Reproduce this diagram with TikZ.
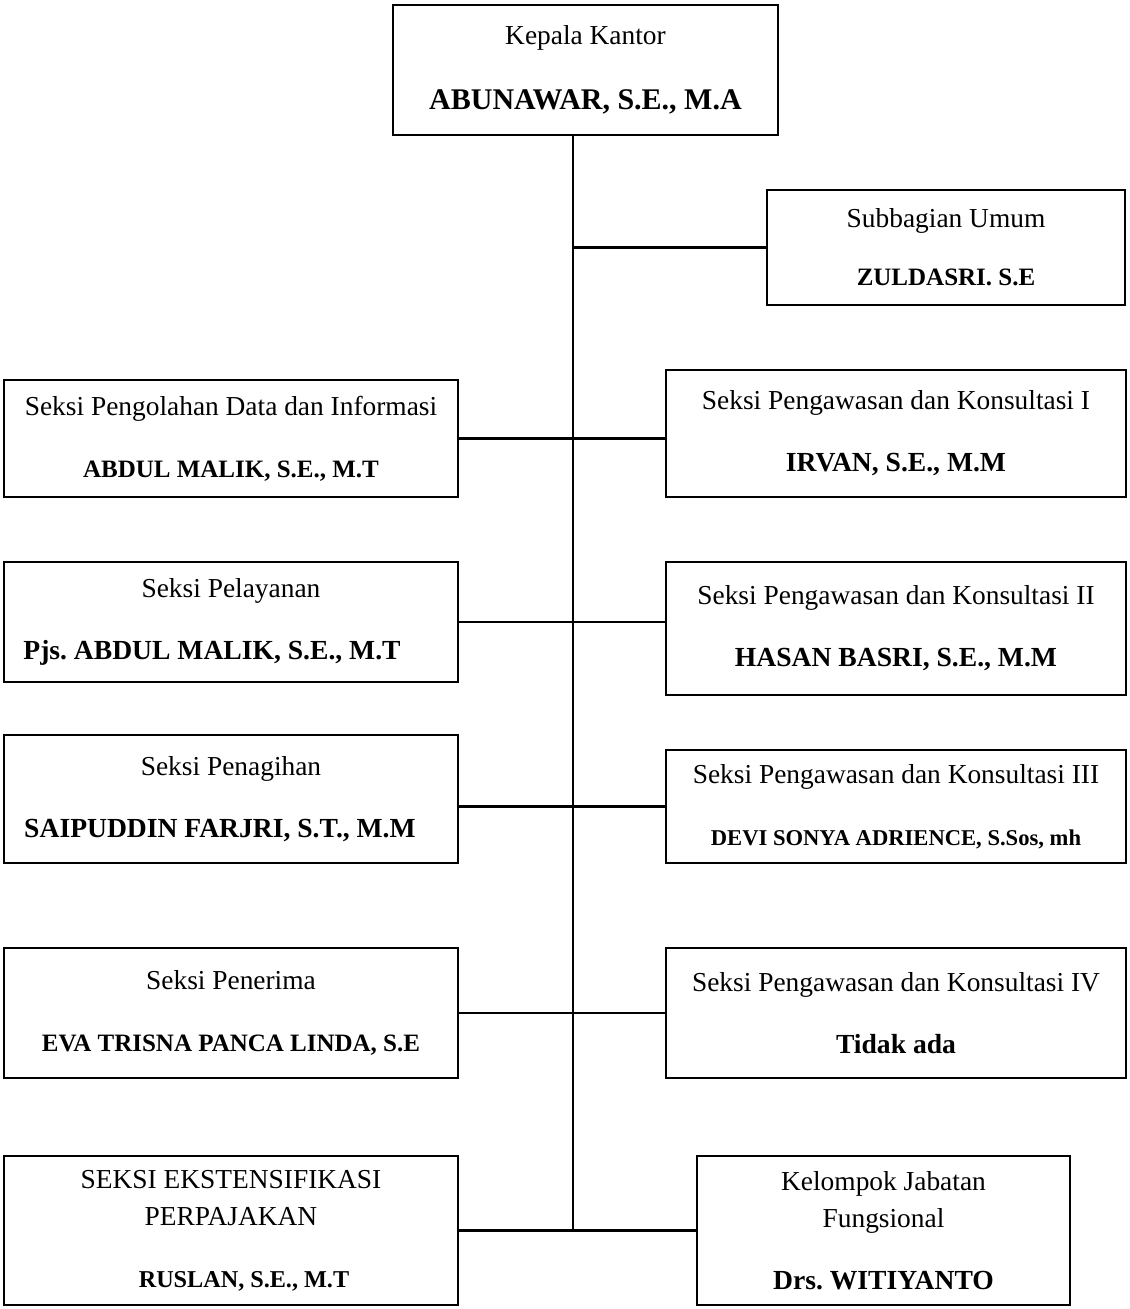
\documentclass[tikz,border=0pt]{standalone}
\usepackage{fontspec}
\setmainfont{Liberation Serif}
\usepackage{tikz}
\newcommand{\jab}{\fontsize{13.7}{31}\selectfont}
\newcommand{\nama}[2][13.8]{{\fontsize{#1}{31}\selectfont\bfseries #2}}

\begin{document}
\begin{tikzpicture}[x=0.5pt,y=-0.5pt,
	unit/.style={draw,line width=1.1pt,align=center,inner sep=0pt,font=\jab},
	kiri/.style={unit,minimum width=227pt},
	kanan/.style={unit,minimum width=230pt}]
	\useasboundingbox (0,0) rectangle (1129,1309);
	
	\node[unit,minimum width=192.5pt,minimum height=65pt] (kepala) at (585.5,70){Kepala Kantor\\[1.5pt]\nama[15]{ABUNAWAR, S.E., M.A}};
	\node[unit,minimum width=179pt,minimum height=57.5pt] (umum) at (946,247.5){Subbagian Umum\\[-2pt]\nama[12.5]{ZULDASRI. S.E}};
	
	\node[kiri,minimum height=58.5pt] (pdi) at (231,438.5){Seksi Pengolahan Data dan Informasi\\\nama[12.5]{ABDUL MALIK, S.E., M.T}};
	\node[kiri,minimum height=60pt] (yan) at (231,622){Seksi Pelayanan\\\nama{Pjs.\ ABDUL MALIK, S.E., M.T}\hspace*{19pt}};
	\node[kiri,minimum height=64pt] (tagih) at (231,799){Seksi Penagihan\\\nama{SAIPUDDIN FARJRI, S.T., M.M}\hspace*{11pt}};
	\node[kiri,minimum height=65pt] (terima) at (231,1013){Seksi Penerima\\\nama[12.5]{EVA TRISNA PANCA LINDA, S.E}};
	\node[kiri,minimum height=74.5pt] (eks) at (231,1230.5){SEKSI EKSTENSIFIKASI\\[-12.5pt]PERPAJAKAN\\\hspace*{13pt}\nama[12.1]{RUSLAN, S.E., M.T}};
	
	\node[kanan,minimum height=63.5pt] (pk1) at (896,433.5){Seksi Pengawasan dan Konsultasi I\\\nama{IRVAN, S.E., M.M}};
	\node[kanan,minimum height=66.5pt] (pk2) at (896,628.5){Seksi Pengawasan dan Konsultasi II\\\nama{HASAN BASRI, S.E., M.M}};
	\node[kanan,minimum height=56.5pt] (pk3) at (896,806.5){Seksi Pengawasan dan Konsultasi III\\\nama[11.3]{DEVI SONYA ADRIENCE, S.Sos, mh}};
	\node[kanan,minimum height=65pt] (pk4) at (896,1013){Seksi Pengawasan dan Konsultasi IV\\\nama{Tidak ada}};
	\node[unit,minimum width=186.5pt,minimum height=74.5pt] (jf) at (883.5,1230.5){Kelompok Jabatan\\[-12.5pt]Fungsional\\\nama{Drs.\ WITIYANTO}};
	
	\coordinate (batang) at (573,0);
	\begin{scope}[line width=1.1pt]
	%garis
	\draw (kepala.south -| batang) -- (eks.east -| batang);
	\draw (umum.west -| batang) -- (umum.west);
	\draw (pdi.east) -- (pdi.east -| pk1.west);
	\draw (yan.east) -- (yan.east -| pk2.west);
	\draw (pk3.west -| tagih.east) -- (pk3.west);
	\draw (terima.east) -- (pk4.west);
	\draw (eks.east) -- (eks.east -| jf.west);
	\end{scope}
\end{tikzpicture}
\end{document}
